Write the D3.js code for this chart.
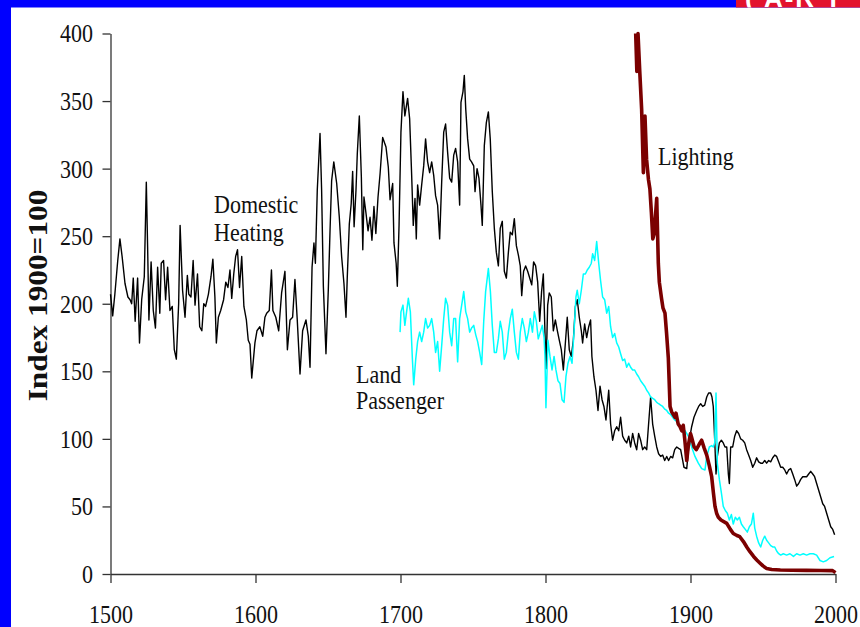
<!DOCTYPE html>
<html><head><meta charset="utf-8">
<script src="https://cdn.jsdelivr.net/npm/d3@7"></script>
<style>html,body{margin:0;padding:0;background:#fff;overflow:hidden}svg{display:block}</style>
</head><body><svg id="c" width="860" height="627"></svg>
<script>
const xTicks = [1500, 1600, 1700, 1800, 1900, 2000];
const yTicks = [0, 50, 100, 150, 200, 250, 300, 350, 400];
const yAxisTitle = "Index 1900=100";
const seriesNames = ["Domestic", "Heating", "Land", "Passenger", "Lighting"];
const logoText = "( A-R T";

const heating = [[1500,207],[1501.5,191],[1503,207],[1505,232],[1506.5,248],[1508,235],[1510,215],[1512,205],[1513.5,203],[1514.6,200],[1515.7,219],[1517,187],[1518.7,219],[1520,171],[1521.5,203],[1523.3,220],[1524.7,290],[1525.6,242],[1526.5,188],[1528,231],[1529.5,195],[1531,182],[1532.5,227],[1534,193],[1535,230],[1536.6,232],[1538,203],[1539.4,227],[1541,195],[1542.6,198],[1544,166],[1545.4,159],[1547,200],[1548,258],[1549.7,210],[1551.4,190],[1553,221],[1554,207],[1555.5,205],[1557,232],[1558.3,199],[1560,222],[1561.5,183],[1563,180],[1564.3,200],[1565.6,198],[1567.5,207],[1569.3,220],[1570.6,233],[1572,205],[1573,171],[1574.4,190],[1576,195],[1578,203],[1579.5,216],[1581,212],[1582.4,225],[1583.6,204],[1585,222],[1586.3,235],[1587.6,240],[1589,212],[1590.5,235],[1592,198],[1593.7,188],[1595,173],[1596.2,170],[1597.4,145],[1599.6,171],[1601,180],[1603,183],[1605,176],[1606.5,190],[1607.7,193],[1609.5,195],[1611,225],[1612,195],[1614,190],[1616,180],[1618,208],[1620.3,224],[1622,166],[1623.8,188],[1625.6,190],[1627.2,218],[1628.8,188],[1630.7,148],[1632.5,180],[1634.8,188],[1636.4,176],[1637.6,153],[1639,227],[1640.3,245],[1641.3,230],[1642.6,284],[1644.5,326],[1645.6,284],[1646.8,213],[1648.6,163],[1650.2,210],[1651.4,254],[1652.5,291],[1654,305],[1656,289],[1657.8,264],[1659.4,235],[1661,215],[1662.4,190],[1663.3,220],[1664.7,259],[1666,274],[1667,298],[1668,257],[1669.3,284],[1670.2,311],[1671.6,339],[1673,294],[1674,240],[1674.8,279],[1676.2,267],[1677.6,254],[1679,264],[1680.3,247],[1681.7,272],[1683,252],[1684.5,279],[1685.9,296],[1687.7,323],[1690,316],[1691.6,301],[1692.8,277],[1694.6,289],[1695.5,245],[1697,230],[1697.8,213],[1699,258],[1700.3,327],[1701.7,357],[1703,339],[1704.9,352],[1706.3,337],[1707.7,295],[1708.8,258],[1710,278],[1710.9,248],[1711.8,288],[1713.2,273],[1714.6,288],[1716,302],[1717.3,322],[1718.7,305],[1720.1,297],[1721.5,305],[1722.9,295],[1724.2,280],[1725.6,273],[1727,248],[1728.4,290],[1729.8,327],[1731.1,333],[1732.5,312],[1733.9,293],[1735.3,290],[1736.7,310],[1738,315],[1739.4,305],[1740.8,273],[1741.7,349],[1743.1,357],[1744,369],[1745,344],[1746.3,322],[1747.7,307],[1749,305],[1750.5,302],[1751.4,283],[1752.8,300],[1754.1,293],[1755.5,273],[1756.4,258],[1757.8,317],[1759.2,334],[1760.6,342],[1761.9,322],[1763.3,283],[1764.7,256],[1766.1,238],[1767.5,228],[1768.8,256],[1770.2,261],[1771.6,224],[1773,219],[1774.4,238],[1775.7,253],[1777.1,251],[1778.5,263],[1779.9,243],[1781.3,236],[1782.6,228],[1783.6,206],[1784.9,224],[1786.3,228],[1787.7,224],[1789.1,219],[1790.5,214],[1791.8,231],[1793.2,228],[1794.6,216],[1796,187],[1797.3,209],[1798.5,222],[1799.6,180],[1800.4,152],[1801.5,199],[1802.6,208],[1804,205],[1805.4,180],[1806.8,188],[1808.2,180],[1809.5,173],[1810.9,166],[1812.3,151],[1813.7,171],[1815,190],[1816.4,166],[1817.8,161],[1819.2,173],[1820.6,198],[1821.9,203],[1823.3,190],[1824.7,180],[1825.6,171],[1827,185],[1828.4,175],[1829.8,183],[1831.1,188],[1832,161],[1833.4,146],[1834.8,136],[1836.2,121],[1837.6,139],[1839,129],[1840.3,124],[1841.7,114],[1843.6,136],[1844.9,111],[1846.3,99],[1847.7,106],[1849.1,109],[1850.5,106],[1851.8,116],[1853.2,102],[1854.6,99],[1856,97],[1857.4,102],[1858.7,94],[1860.1,104],[1861.5,97],[1862.9,92],[1864.2,104],[1865.6,99],[1867,92],[1868.4,94],[1869.8,92],[1871.1,111],[1872.5,131],[1873.9,111],[1875.3,102],[1876.7,94],[1878,89],[1879.4,87],[1880.8,88],[1882.2,84],[1883.6,87],[1884.9,84],[1886.3,87],[1887.7,86],[1889.1,92],[1890.5,94],[1891.8,93],[1893.2,92],[1894.6,84],[1895.5,79],[1897.4,78],[1899.2,99],[1900.8,109],[1902.4,116],[1904.3,121],[1905.6,124],[1907,126],[1908.4,124],[1909.8,125],[1911.2,131],[1912.5,134],[1913.9,134],[1914.8,131],[1915.7,124],[1916.7,99],[1917.6,74],[1918.5,87],[1919.9,97],[1921.3,99],[1922.6,97],[1923.8,94],[1925,94],[1926.1,74],[1926.8,67],[1927.7,94],[1929.1,94],[1930.5,102],[1931.8,106],[1933.2,104],[1934.6,100],[1936,99],[1937.4,97],[1938.7,92],[1940.1,88],[1941.5,84],[1942.9,79],[1944.3,82],[1945.6,86],[1947,83],[1948.4,82],[1949.8,82],[1951.2,84],[1952.5,82],[1953.9,84],[1955.3,83],[1956.7,86],[1958.1,88],[1959.4,87],[1960.8,83],[1962.2,79],[1963.6,79],[1965,77],[1966.3,74],[1967.7,77],[1969.1,78],[1970.5,74],[1971.8,70],[1973.2,65],[1974.6,67],[1976,70],[1977.4,72],[1978.7,72],[1980.1,72],[1981.5,74],[1982.9,76],[1984.3,74],[1985.6,72],[1987,67],[1988.4,62],[1989.8,57],[1991.2,52],[1992.5,50],[1993.9,45],[1995.3,40],[1996.7,35],[1998.1,33],[1999.4,29]];

const landPassenger = [[1699.7,179],[1700.3,194],[1701.7,199],[1703,184],[1705.4,204],[1706.8,194],[1708.2,159],[1709.1,140],[1710.5,159],[1711.8,172],[1713.2,179],[1714.6,172],[1716,179],[1717.3,189],[1718.7,182],[1720.1,184],[1721.5,189],[1722.9,179],[1724.2,164],[1725.6,172],[1727,150],[1728.4,169],[1729.8,189],[1731.1,204],[1732.5,199],[1733.9,179],[1735.3,169],[1736.7,189],[1738,189],[1739.4,157],[1740.8,189],[1742.2,199],[1743.6,209],[1745,194],[1746.3,189],[1747.7,179],[1749,182],[1750.5,184],[1751.9,177],[1753.2,172],[1754.6,164],[1756,155],[1757.4,187],[1758.7,209],[1760.6,226],[1762,209],[1763.3,184],[1764.7,164],[1766.1,164],[1767.5,174],[1768.8,187],[1770.2,179],[1771.6,159],[1773,164],[1774.4,179],[1775.7,189],[1777.1,196],[1778.5,179],[1779.9,164],[1781.3,159],[1782.6,179],[1784,189],[1785.4,182],[1786.8,172],[1788.2,179],[1789.5,189],[1791,179],[1792.3,194],[1793.7,187],[1795,174],[1796.4,179],[1797.8,184],[1799,175],[1799.6,162],[1800.3,123],[1801.7,173],[1803.1,161],[1804.5,151],[1805.9,161],[1807.2,151],[1808.6,143],[1810,141],[1811.4,129],[1812.8,127],[1814.1,146],[1815.5,156],[1816.9,161],[1818.3,156],[1819.6,178],[1821,205],[1821.9,210],[1823.3,200],[1824.7,210],[1826.1,222],[1827.5,222],[1828.8,225],[1830.2,227],[1831.6,230],[1832.5,237],[1833.9,232],[1835.3,246],[1836.7,230],[1838,217],[1839.4,205],[1840.8,203],[1842.2,193],[1843.6,198],[1844.9,183],[1846.3,175],[1847.7,178],[1849.1,171],[1850.5,168],[1851.8,163],[1853.2,158],[1854.6,159],[1856,153],[1857.4,156],[1858.7,153],[1860.1,151],[1861.5,151],[1862.9,148],[1864.2,146],[1865.6,143],[1867,141],[1868.4,139],[1869.8,136],[1871.1,134],[1872.5,131],[1873.9,130],[1875.3,129],[1876.7,127],[1878,126],[1879.4,125],[1880.8,124],[1882.2,122],[1883.6,121],[1884.9,119],[1886.3,118],[1887.7,116],[1889.1,114],[1890.5,113],[1891.8,111],[1893.2,109],[1896.2,106],[1898.5,102],[1900.8,94],[1903.1,87],[1905.4,82],[1907.7,78],[1910,77],[1911.2,87],[1913,94],[1914.6,95],[1915.7,94],[1916.7,97],[1917.6,134],[1918.5,82],[1919.9,70],[1921.3,60],[1922.6,50],[1924,47],[1925.4,45],[1926.8,40],[1928.2,44],[1929.5,37],[1930.9,42],[1932.3,40],[1933.7,42],[1935.1,37],[1936.4,35],[1937.8,33],[1939.2,31],[1940.6,35],[1942,37],[1943.3,45],[1944.3,34],[1945.6,28],[1947,23],[1948.4,20],[1949.8,25],[1951.2,28],[1952.5,25],[1953.9,23],[1955.3,21],[1956.7,20],[1958.1,20],[1959.4,17],[1960.8,15],[1962.2,14],[1964,15],[1966.3,14],[1968.6,15],[1971,13],[1973.2,15],[1975.5,14],[1977.8,15],[1980.1,14],[1982.4,15],[1984.7,15],[1987,14],[1989.3,10],[1991.6,9],[1993.9,10],[1996.2,12],[1999,13]];

const lighting = [[1862.2,400],[1863,372],[1863.8,400],[1865,372],[1866.3,344],[1867.5,297],[1868.6,339],[1869.7,307],[1871,292],[1872,285],[1873,268],[1874,248],[1875,252],[1876.7,278],[1877.8,230],[1878.5,216],[1880,204],[1881,197],[1882.4,193],[1883.5,178],[1884.7,160],[1885.9,124],[1887,120],[1889.3,116],[1890,119],[1891.5,111],[1892.8,109],[1894,106],[1895,110],[1896,100],[1897.4,84],[1898.5,95],[1900,104],[1900.8,101],[1902.5,94],[1904,92],[1906,96],[1907.7,99],[1909.5,93],[1911.2,88],[1913,80],[1914.6,72],[1915.8,60],[1916.9,50],[1918,45],[1919.2,42],[1921,40],[1925,37.5],[1927.5,33],[1929.5,30],[1932,28.5],[1934,27.6],[1936.5,24],[1938.8,20],[1941,16.5],[1943.5,13],[1945.7,10.4],[1948,8],[1950,6],[1952.6,4],[1956,3.3],[1962,3],[1970,2.8],[1980,2.7],[1990,2.6],[1998,2.5],[2000,1]];

const FONT = "'Liberation Serif','Times New Roman',serif";
const STRETCH = 1.13;
const svg = d3.select("#c");
svg.append("rect").attr("width", 860).attr("height", 627).attr("fill", "#fff");

// frame
svg.append("rect").attr("x", 0).attr("y", 0).attr("width", 860).attr("height", 7.5).attr("fill", "#0000ff");
svg.append("rect").attr("x", 0).attr("y", 0).attr("width", 11).attr("height", 627).attr("fill", "#0000ff");
svg.append("rect").attr("x", 736).attr("y", 0).attr("width", 124).attr("height", 7.5).attr("fill", "#e3122d");
svg.append("clipPath").attr("id", "logoClip").append("rect").attr("x", 736).attr("y", 0).attr("width", 124).attr("height", 7.5);
svg.append("text").attr("clip-path", "url(#logoClip)").attr("x", 745).attr("y", 7)
  .attr("fill", "#fff").attr("font-family", "'Liberation Sans',Arial,sans-serif").attr("font-weight", "bold")
  .attr("font-size", 26).attr("letter-spacing", 2).text(logoText);

const x = d3.scaleLinear().domain([1500, 2000]).range([110.5, 835.5]);
const y = d3.scaleLinear().domain([0, 400]).range([574, 33.5]);

// axes
const gy = svg.append("g").attr("transform", "translate(110.5,0)")
  .call(d3.axisLeft(y).tickValues(yTicks).tickSize(8).tickSizeOuter(0).tickFormat(d3.format("d")));
const gx = svg.append("g").attr("transform", "translate(0,574)")
  .call(d3.axisBottom(x).tickValues(xTicks).tickSize(9).tickSizeOuter(0).tickFormat(d3.format("d")));
[gy, gx].forEach(g => {
  g.select(".domain").attr("stroke", "#333").attr("stroke-width", 1.3);
  g.selectAll(".tick line").attr("stroke", "#333").attr("stroke-width", 1.3);
  g.selectAll(".tick text").attr("font-family", FONT).attr("font-size", 22).attr("fill", "#111")
    .attr("x", 0).attr("y", 0).attr("dy", null);
});
gy.selectAll(".tick text").attr("text-anchor", "end").attr("transform", `translate(-17.5,8.4) scale(1,${STRETCH})`);
gx.selectAll(".tick text").attr("text-anchor", "middle").attr("transform", `translate(0,49) scale(1,${STRETCH})`);

// y title
svg.append("text").attr("transform", "translate(46.5,295.5) rotate(-90) scale(1.16,1)")
  .attr("text-anchor", "middle").attr("font-family", FONT).attr("font-weight", "bold")
  .attr("font-size", 27).attr("fill", "#111").text(yAxisTitle);

// lines
const line = d3.line().x(d => x(d[0])).y(d => y(d[1]));
svg.append("path").datum(heating).attr("d", line).attr("fill", "none").attr("stroke", "#000").attr("stroke-width", 1.4).attr("stroke-linejoin", "round");
svg.append("path").datum(landPassenger).attr("d", line).attr("fill", "none").attr("stroke", "#00ffff").attr("stroke-width", 1.5).attr("stroke-linejoin", "round");
svg.append("path").datum(lighting).attr("d", line).attr("fill", "none").attr("stroke", "#7b0000").attr("stroke-width", 3.6).attr("stroke-linejoin", "round");

// series labels
const labelPos = [[214, 213], [214, 241], [356, 383], [356, 409], [658, 165]];
seriesNames.forEach((t, i) => {
  svg.append("text").attr("transform", `translate(${labelPos[i][0]},${labelPos[i][1]}) scale(1,${STRETCH})`)
    .attr("font-family", FONT).attr("font-size", 22).attr("fill", "#111").text(t);
});
</script></body></html>
